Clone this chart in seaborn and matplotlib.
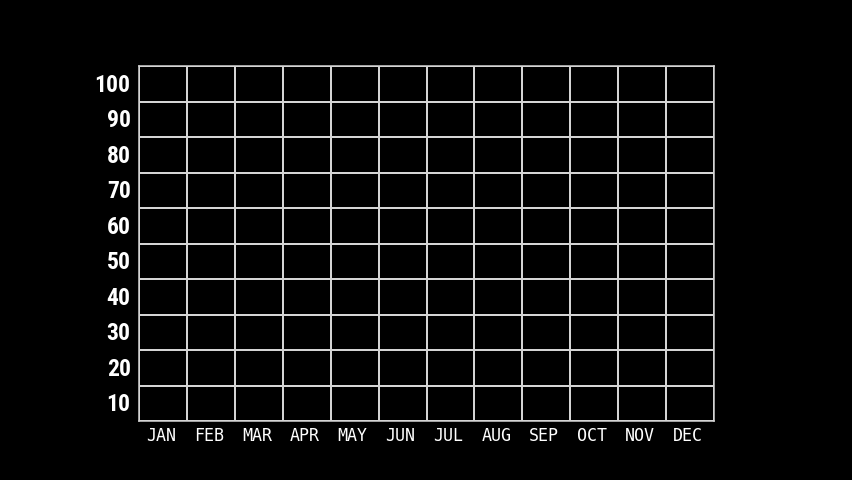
import numpy as np
import pandas as pd
import seaborn as sns
import matplotlib.pyplot as plt
import matplotlib.transforms as mtransforms
from matplotlib.colors import ListedColormap
from matplotlib import font_manager

months = ['JAN', 'FEB', 'MAR', 'APR', 'MAY', 'JUN',
          'JUL', 'AUG', 'SEP', 'OCT', 'NOV', 'DEC']
levels = [100, 90, 80, 70, 60, 50, 40, 30, 20, 10]

grid_color = '#d4d4d4'

sns.set_style('dark', {'axes.facecolor': 'black', 'figure.facecolor': 'black'})

# pick a narrow bold family for the level labels if one is installed
names = {f.name for f in font_manager.fontManager.ttflist}
narrow = [n for n in ['Roboto Condensed', 'Liberation Sans Narrow', 'Open Sans Condensed']
          if n in names]

# empty table: one cell per month / level, all black
empty = pd.DataFrame(np.zeros((len(levels), len(months))), index=levels, columns=months)

fig = plt.figure(figsize=(8.52, 4.8), dpi=100)
fig.patch.set_facecolor('black')
ax = fig.add_axes([139 / 852, 1 - 421 / 480, 575 / 852, 355 / 480])

sns.heatmap(empty, ax=ax, cmap=ListedColormap(['black']), cbar=False,
            linewidths=1.1, linecolor=grid_color,
            xticklabels=months, yticklabels=levels)

for s in ax.spines.values():
    s.set_visible(True)
    s.set_color(grid_color)
    s.set_linewidth(1.1)

ax.tick_params(axis='both', length=0)
ax.tick_params(axis='x', pad=4)
ax.tick_params(axis='y', pad=6)
ax.set_xlabel('')
ax.set_ylabel('')
shift_x = mtransforms.ScaledTranslation(-2 / 100, 0, fig.dpi_scale_trans)
for lab in ax.get_xticklabels():
    lab.set_family(['DejaVu Sans Mono'])
    lab.set_fontsize(12)
    lab.set_color('white')
    lab.set_rotation(0)
    lab.set_transform(lab.get_transform() + shift_x)
shift_y = mtransforms.ScaledTranslation(0, -1.5 / 100, fig.dpi_scale_trans)
for lab in ax.get_yticklabels():
    lab.set_family(narrow + ['DejaVu Sans'])
    lab.set_fontstretch('condensed')
    lab.set_fontweight('bold')
    lab.set_fontsize(17)
    lab.set_color('white')
    lab.set_rotation(0)
    lab.set_transform(lab.get_transform() + shift_y)

plt.savefig('out.png', dpi=100, facecolor='black')
